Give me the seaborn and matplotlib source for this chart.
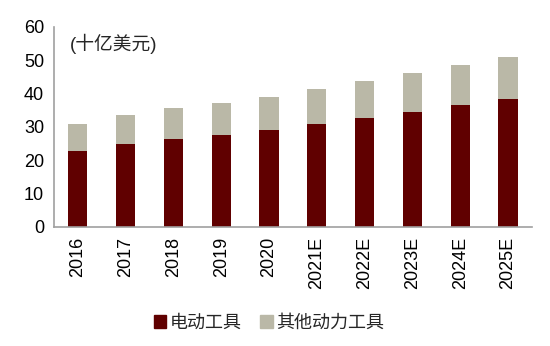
import matplotlib
matplotlib.use("Agg")
import matplotlib.pyplot as plt
import matplotlib.patches as mpatches
import seaborn as sns
import pandas as pd

years = ["2016", "2017", "2018", "2019", "2020", "2021E", "2022E", "2023E", "2024E", "2025E"]
power_tools = [22.7, 24.8, 26.5, 27.5, 29.0, 30.8, 32.6, 34.6, 36.5, 38.5]
other_tools = [8.2, 8.8, 9.3, 9.7, 10.0, 10.5, 11.2, 11.7, 12.1, 12.6]
series_names = ["电动工具", "其他动力工具"]

DARK = "#600000"
GRAY = "#BAB8A7"
AXIS = "#A0A0A0"

sns.set_theme(style="white")
plt.rcParams["font.family"] = ["Liberation Sans", "Noto Sans CJK SC", "DejaVu Sans"]

df = pd.DataFrame({"year": years, "power": power_tools, "other": other_tools})
df["total"] = df["power"] + df["other"]

fig = plt.figure(figsize=(5.5, 3.46), dpi=100)
ax = fig.add_axes([0.098, 0.344, 0.869, 0.578])

sns.barplot(data=df, x="year", y="total", color=GRAY, width=0.4,
            saturation=1, ax=ax, linewidth=0)
sns.barplot(data=df, x="year", y="power", color=DARK, width=0.4,
            saturation=1, ax=ax, linewidth=0)

ax.set_ylim(0, 60)
ax.set_xlim(-0.5, len(years) - 0.5)
ax.set_yticks(range(0, 61, 10))
ax.set_xlabel("")
ax.set_ylabel("")

for s in ["top", "right"]:
    ax.spines[s].set_visible(False)
for s in ["left", "bottom"]:
    ax.spines[s].set_color(AXIS)
    ax.spines[s].set_linewidth(1.2)

ax.tick_params(axis="y", length=0, labelsize=13, pad=7, labelcolor="black")
ax.tick_params(axis="x", which="major", length=0, labelsize=13, pad=7,
               labelrotation=90, labelcolor="black")
ax.set_xticks([i - 0.5 for i in range(len(years) + 1)], minor=True)
ax.tick_params(axis="x", which="minor", length=5, width=1.2, color=AXIS, direction="out")

ax.text(0.033, 0.965, "(十亿美元)", transform=ax.transAxes, fontsize=13.5,
        ha="left", va="top")

handles = [mpatches.Patch(color=DARK, label=series_names[0]),
           mpatches.Patch(color=GRAY, label=series_names[1])]
fig.legend(handles=handles, loc="center", bbox_to_anchor=(0.489, 0.066), ncol=2,
           frameon=False, fontsize=13, handlelength=0.7, handleheight=0.7,
           handletextpad=0.2, columnspacing=1.0)

fig.savefig("out.png", dpi=100)
